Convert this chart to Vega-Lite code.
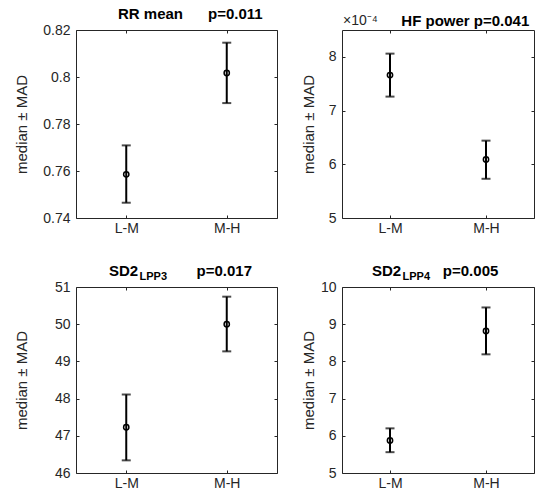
{
  "$schema": "https://vega.github.io/schema/vega-lite/v6.json",
  "background": "white",
  "padding": {"left": 13, "top": 6, "right": 0, "bottom": 0},
  "columns": 2,
  "spacing": {"row": 27, "column": 22},
  "config": {
    "font": "Liberation Sans",
    "view": {"stroke": "#262626", "strokeWidth": 1},
    "axis": {"domain": false, "grid": false, "tickColor": "#262626", "tickSize": -3, "labelColor": "#262626", "labelFont": "Liberation Sans", "labelFontSize": 14, "titleFont": "Liberation Sans", "titleFontSize": 15, "titleFontWeight": "normal", "titleColor": "#262626"},
    "title": {"font": "Liberation Sans", "fontSize": 15, "fontWeight": "bold", "color": "black", "anchor": "start", "frame": "group", "offset": 1, "subtitleFont": "Liberation Sans"}
  },
  "concat": [
    {
      "width": 201, "height": 188,
      "title": {"text": "RR mean\u00a0\u00a0\u00a0\u00a0\u00a0\u00a0p=0.011", "dx": 42},
      "data": {"values": [
        {"group": "L-M", "median": 0.7586, "lo": 0.7465, "hi": 0.7709},
        {"group": "M-H", "median": 0.8017, "lo": 0.7889, "hi": 0.8146}
      ]},
      "layer": [
        {"mark": {"type": "rule", "color": "black", "strokeWidth": 2},
         "encoding": {
           "x": {"field": "group", "type": "nominal", "scale": {"type": "point", "padding": 0.5, "domain": ["L-M", "M-H"]}, "axis": {"orient": "bottom", "title": null, "labelAngle": 0, "labelPadding": 6}},
           "y": {"field": "lo", "type": "quantitative", "scale": {"domain": [0.74, 0.82], "nice": false, "zero": false}, "axis": {"orient": "left", "title": "median ± MAD", "values": [0.74, 0.76, 0.78, 0.8, 0.82], "format": "~g", "labelPadding": 9, "minExtent": 36, "maxExtent": 36, "titlePadding": 11}},
           "y2": {"field": "hi"}}},
        {"mark": {"type": "tick", "color": "black", "thickness": 2, "size": 9},
         "encoding": {
           "x": {"field": "group", "type": "nominal", "axis": {"orient": "top", "title": null, "labels": false, "minExtent": 0, "maxExtent": 0}},
           "y": {"field": "lo", "type": "quantitative", "axis": {"orient": "right", "title": null, "labels": false, "values": [0.74, 0.76, 0.78, 0.8, 0.82], "minExtent": 0, "maxExtent": 0}}}},
        {"mark": {"type": "tick", "color": "black", "thickness": 2, "size": 9},
         "encoding": {
           "x": {"field": "group", "type": "nominal", "axis": null},
           "y": {"field": "hi", "type": "quantitative", "axis": null}}},
        {"mark": {"type": "point", "shape": "circle", "filled": false, "size": 28, "strokeWidth": 1.5, "color": "black", "opacity": 1},
         "encoding": {
           "x": {"field": "group", "type": "nominal", "axis": null},
           "y": {"field": "median", "type": "quantitative", "axis": null}}}
      ],
      "resolve": {"axis": {"x": "independent", "y": "independent"}}
    },
    {
      "width": 192, "height": 188,
      "title": {"text": "\u200b\u00a0\u00a0\u00a0\u00a0\u00a0\u00a0\u00a0\u00a0\u00a0\u00a0\u00a0\u00a0\u00a0\u00a0HF power p=0.041", "dx": 1, "subtitle": "×10⁻⁴", "subtitleFontSize": 14, "subtitleFontWeight": "normal", "subtitleColor": "#262626", "subtitlePadding": -15},
      "data": {"values": [
        {"group": "L-M", "median": 7.66, "lo": 7.26, "hi": 8.06},
        {"group": "M-H", "median": 6.09, "lo": 5.73, "hi": 6.44}
      ]},
      "layer": [
        {"mark": {"type": "rule", "color": "black", "strokeWidth": 2},
         "encoding": {
           "x": {"field": "group", "type": "nominal", "scale": {"type": "point", "padding": 0.5, "domain": ["L-M", "M-H"]}, "axis": {"orient": "bottom", "title": null, "labelAngle": 0, "labelPadding": 6}},
           "y": {"field": "lo", "type": "quantitative", "scale": {"domain": [5, 8.5], "nice": false, "zero": false}, "axis": {"orient": "left", "title": "median ± MAD", "values": [5, 6, 7, 8], "format": "d", "labelPadding": 9, "minExtent": 16, "maxExtent": 16, "titlePadding": 10}},
           "y2": {"field": "hi"}}},
        {"mark": {"type": "tick", "color": "black", "thickness": 2, "size": 9},
         "encoding": {
           "x": {"field": "group", "type": "nominal", "axis": {"orient": "top", "title": null, "labels": false, "minExtent": 0, "maxExtent": 0}},
           "y": {"field": "lo", "type": "quantitative", "axis": {"orient": "right", "title": null, "labels": false, "values": [5, 6, 7, 8], "minExtent": 0, "maxExtent": 0}}}},
        {"mark": {"type": "tick", "color": "black", "thickness": 2, "size": 9},
         "encoding": {
           "x": {"field": "group", "type": "nominal", "axis": null},
           "y": {"field": "hi", "type": "quantitative", "axis": null}}},
        {"mark": {"type": "point", "shape": "circle", "filled": false, "size": 28, "strokeWidth": 1.5, "color": "black", "opacity": 1},
         "encoding": {
           "x": {"field": "group", "type": "nominal", "axis": null},
           "y": {"field": "median", "type": "quantitative", "axis": null}}}
      ],
      "resolve": {"axis": {"x": "independent", "y": "independent"}}
    },
    {
      "width": 201, "height": 186,
      "title": {"text": "SD2\u00a0\u00a0\u00a0\u00a0\u00a0\u00a0\u00a0\u00a0\u00a0\u00a0\u00a0\u00a0\u00a0\u00a0p=0.017", "dx": 33, "subtitle": "\u200b\u00a0\u00a0\u00a0\u00a0\u00a0\u00a0\u00a0\u00a0\u00a0\u00a0LPP3", "subtitleFontSize": 11, "subtitleFontWeight": "bold", "subtitleColor": "black", "subtitlePadding": -8, "offset": -2},
      "data": {"values": [
        {"group": "L-M", "median": 47.23, "lo": 46.34, "hi": 48.11},
        {"group": "M-H", "median": 50.0, "lo": 49.27, "hi": 50.74}
      ]},
      "layer": [
        {"mark": {"type": "rule", "color": "black", "strokeWidth": 2},
         "encoding": {
           "x": {"field": "group", "type": "nominal", "scale": {"type": "point", "padding": 0.5, "domain": ["L-M", "M-H"]}, "axis": {"orient": "bottom", "title": null, "labelAngle": 0, "labelPadding": 6}},
           "y": {"field": "lo", "type": "quantitative", "scale": {"domain": [46, 51], "nice": false, "zero": false}, "axis": {"orient": "left", "title": "median ± MAD", "values": [46, 47, 48, 49, 50, 51], "format": "d", "labelPadding": 9, "minExtent": 36, "maxExtent": 36, "titlePadding": 11}},
           "y2": {"field": "hi"}}},
        {"mark": {"type": "tick", "color": "black", "thickness": 2, "size": 9},
         "encoding": {
           "x": {"field": "group", "type": "nominal", "axis": {"orient": "top", "title": null, "labels": false, "minExtent": 0, "maxExtent": 0}},
           "y": {"field": "lo", "type": "quantitative", "axis": {"orient": "right", "title": null, "labels": false, "values": [46, 47, 48, 49, 50, 51], "minExtent": 0, "maxExtent": 0}}}},
        {"mark": {"type": "tick", "color": "black", "thickness": 2, "size": 9},
         "encoding": {
           "x": {"field": "group", "type": "nominal", "axis": null},
           "y": {"field": "hi", "type": "quantitative", "axis": null}}},
        {"mark": {"type": "point", "shape": "circle", "filled": false, "size": 28, "strokeWidth": 1.5, "color": "black", "opacity": 1},
         "encoding": {
           "x": {"field": "group", "type": "nominal", "axis": null},
           "y": {"field": "median", "type": "quantitative", "axis": null}}}
      ],
      "resolve": {"axis": {"x": "independent", "y": "independent"}}
    },
    {
      "width": 192, "height": 186,
      "title": {"text": "SD2\u00a0\u00a0\u00a0\u00a0\u00a0\u00a0\u00a0\u00a0\u00a0\u00a0p=0.005", "dx": 30, "subtitle": "\u200b\u00a0\u00a0\u00a0\u00a0\u00a0\u00a0\u00a0\u00a0\u00a0\u00a0LPP4", "subtitleFontSize": 11, "subtitleFontWeight": "bold", "subtitleColor": "black", "subtitlePadding": -8, "offset": -2},
      "data": {"values": [
        {"group": "L-M", "median": 5.875, "lo": 5.56, "hi": 6.2},
        {"group": "M-H", "median": 8.82, "lo": 8.19, "hi": 9.45}
      ]},
      "layer": [
        {"mark": {"type": "rule", "color": "black", "strokeWidth": 2},
         "encoding": {
           "x": {"field": "group", "type": "nominal", "scale": {"type": "point", "padding": 0.5, "domain": ["L-M", "M-H"]}, "axis": {"orient": "bottom", "title": null, "labelAngle": 0, "labelPadding": 6}},
           "y": {"field": "lo", "type": "quantitative", "scale": {"domain": [5, 10], "nice": false, "zero": false}, "axis": {"orient": "left", "title": "median ± MAD", "values": [5, 6, 7, 8, 9, 10], "format": "d", "labelPadding": 9, "minExtent": 16, "maxExtent": 16, "titlePadding": 10}},
           "y2": {"field": "hi"}}},
        {"mark": {"type": "tick", "color": "black", "thickness": 2, "size": 9},
         "encoding": {
           "x": {"field": "group", "type": "nominal", "axis": {"orient": "top", "title": null, "labels": false, "minExtent": 0, "maxExtent": 0}},
           "y": {"field": "lo", "type": "quantitative", "axis": {"orient": "right", "title": null, "labels": false, "values": [5, 6, 7, 8, 9, 10], "minExtent": 0, "maxExtent": 0}}}},
        {"mark": {"type": "tick", "color": "black", "thickness": 2, "size": 9},
         "encoding": {
           "x": {"field": "group", "type": "nominal", "axis": null},
           "y": {"field": "hi", "type": "quantitative", "axis": null}}},
        {"mark": {"type": "point", "shape": "circle", "filled": false, "size": 28, "strokeWidth": 1.5, "color": "black", "opacity": 1},
         "encoding": {
           "x": {"field": "group", "type": "nominal", "axis": null},
           "y": {"field": "median", "type": "quantitative", "axis": null}}}
      ],
      "resolve": {"axis": {"x": "independent", "y": "independent"}}
    }
  ]
}
